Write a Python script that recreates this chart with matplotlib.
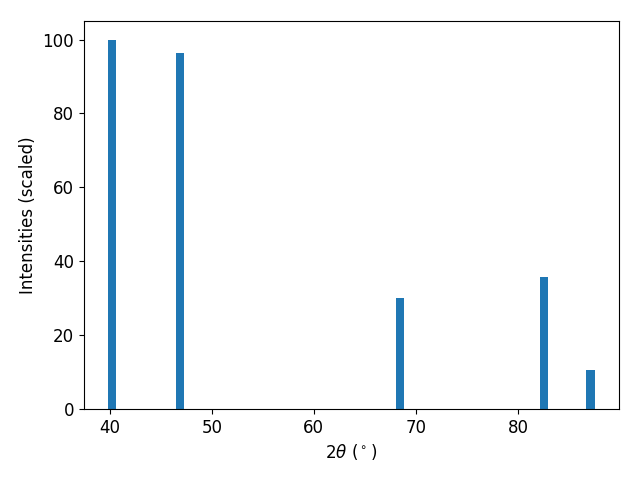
import numpy as np
import matplotlib
matplotlib.use("Agg")
import matplotlib.pyplot as plt

# peak positions and scaled intensities
two_theta = [40.24, 46.90, 68.47, 82.56, 87.11]
intensities = [100.0, 96.5, 30.1, 35.8, 10.6]

plt.rcParams['font.size'] = 12

fig, ax = plt.subplots(figsize=(6.4, 4.8), dpi=100)
ax.bar(two_theta, intensities, width=0.8)

ax.set_xlabel(r'2$\theta$ ($^\circ$)')
ax.set_ylabel('Intensities (scaled)')

# match the reference margins
plt.subplots_adjust(left=0.131, right=0.967, top=0.956, bottom=0.148)
plt.savefig("out.png", dpi=100)
